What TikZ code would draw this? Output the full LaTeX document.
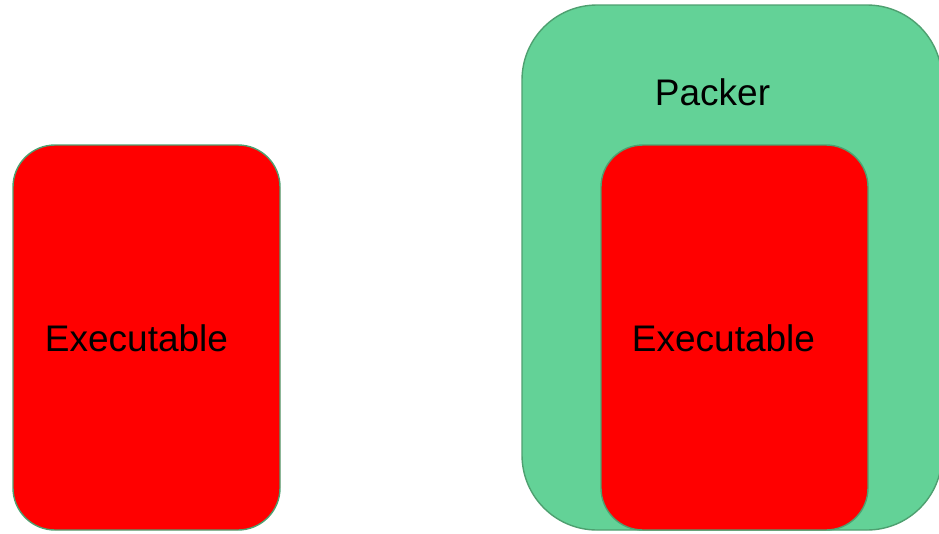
\documentclass[tikz,border=0pt]{standalone}
\usepackage{fontspec}
\setmainfont{Liberation Sans}
\definecolor{boxred}{RGB}{255,0,0}
\definecolor{boxgreen}{RGB}{99,210,151}
\definecolor{edgegreen}{RGB}{78,160,112}
\begin{document}
\begin{tikzpicture}[x=1pt,y=-1pt,
  redbox/.style={draw=edgegreen,line width=1.4pt,fill=boxred,rounded corners=42pt,minimum width=267pt,minimum height=385pt,inner sep=0pt},
  greenbox/.style={draw=edgegreen,line width=1.4pt,fill=boxgreen,rounded corners=75pt,minimum width=420pt,minimum height=525pt,inner sep=0pt},
  label/.style={font=\fontsize{37}{40}\selectfont,text=black,inner sep=0pt}]
\useasboundingbox (0,0) rectangle (939,533);
\node[redbox] (exe1) at (146.5,337.5) {};
\node[label] (exe1t) at (136.5,338.5) {Executable};
\node[greenbox] (packer) at (732,267.5) {};
\node[label] (packert) at (712.5,92) {Packer};
\node[redbox] (exe2) at (734.5,337.5) {};
\node[label] (exe2t) at (723.5,338.5) {Executable};
\end{tikzpicture}
\end{document}
